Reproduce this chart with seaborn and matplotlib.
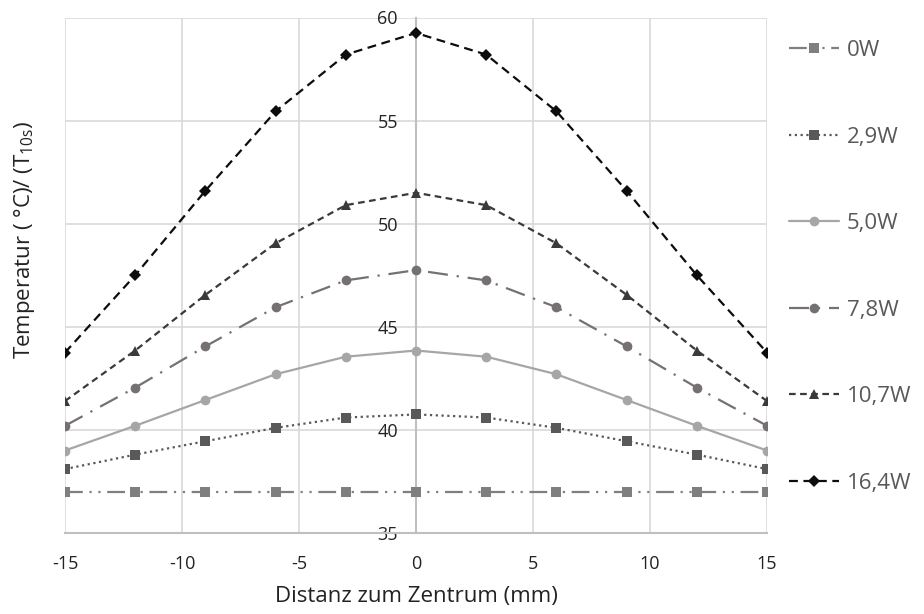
import matplotlib
matplotlib.use("Agg")
import matplotlib.pyplot as plt
import seaborn as sns
import pandas as pd

x_mm = [-15, -12, -9, -6, -3, 0, 3, 6, 9, 12, 15]
series_names = ["0W", "2,9W", "5,0W", "7,8W", "10,7W", "16,4W"]
t_0w = [37.0, 37.0, 37.0, 37.0, 37.0, 37.0, 37.0, 37.0, 37.0, 37.0, 37.0]
t_2_9w = [38.1, 38.8, 39.45, 40.1, 40.6, 40.75, 40.6, 40.1, 39.45, 38.8, 38.1]
t_5_0w = [39.0, 40.2, 41.45, 42.7, 43.55, 43.85, 43.55, 42.7, 41.45, 40.2, 39.0]
t_7_8w = [40.2, 42.05, 44.05, 45.95, 47.25, 47.75, 47.25, 45.95, 44.05, 42.05, 40.2]
t_10_7w = [41.4, 43.85, 46.55, 49.05, 50.9, 51.5, 50.9, 49.05, 46.55, 43.85, 41.4]
t_16_4w = [43.75, 47.5, 51.6, 55.45, 58.2, 59.25, 58.2, 55.45, 51.6, 47.5, 43.75]
x_ticks = [-15, -10, -5, 0, 5, 10, 15]
y_ticks = [35, 40, 45, 50, 55, 60]

all_vals = [t_0w, t_2_9w, t_5_0w, t_7_8w, t_10_7w, t_16_4w]
rows = []
for name, vals in zip(series_names, all_vals):
    for xv, yv in zip(x_mm, vals):
        rows.append({"x": xv, "T": yv, "Serie": name})
df = pd.DataFrame(rows)

sns.set_theme(style="white")
plt.rcParams["font.family"] = ["Open Sans", "DejaVu Sans"]
plt.rcParams["mathtext.default"] = "regular"

styles = {
    "0W": dict(color="#7F7F7F", ls=(0, (8, 3, 1, 3, 1, 3)), marker="s", ms=6.5),
    "2,9W": dict(color="#595959", ls=(0, (1, 1.6)), marker="s", ms=6.5),
    "5,0W": dict(color="#A6A6A6", ls="-", marker="o", ms=7),
    "7,8W": dict(color="#767171", ls=(0, (9, 4, 1, 4)), marker="o", ms=7),
    "10,7W": dict(color="#3A3A3A", ls=(0, (3, 2)), marker="^", ms=7.5),
    "16,4W": dict(color="#0D0D0D", ls=(0, (4, 2.5)), marker="D", ms=6.3),
}

fig = plt.figure(figsize=(9.24, 6.14), dpi=100)
ax = fig.add_axes([65 / 924, 1 - 533 / 614, (767 - 65) / 924, (533 - 17.5) / 614])

for name in series_names:
    st = styles[name]
    sub = df[df["Serie"] == name]
    sns.lineplot(data=sub, x="x", y="T", ax=ax, color=st["color"], linestyle=st["ls"],
                 marker=st["marker"], markersize=st["ms"], markeredgewidth=0,
                 linewidth=1.6, label=name, zorder=3)

ax.set_xlim(-15, 15)
ax.set_ylim(35, 60)
ax.set_xticks(x_ticks)
ax.set_yticks(y_ticks)
ax.set_xticklabels([str(v) for v in x_ticks])
ax.set_yticklabels([str(v) for v in y_ticks])
ax.grid(True, color="#D9D9D9", linewidth=1.2, zorder=0)
ax.set_axisbelow(True)
for s in ["top", "right"]:
    ax.spines[s].set_visible(False)
ax.spines["left"].set_position(("data", 0))
ax.spines["left"].set_color("#BFBFBF")
ax.spines["left"].set_linewidth(1.5)
ax.spines["bottom"].set_color("#BFBFBF")
ax.spines["bottom"].set_linewidth(1.5)
ax.tick_params(axis="both", length=0, labelsize=13, colors="#222222")
ax.tick_params(axis="x", pad=16)
ax.tick_params(axis="y", pad=13)

ax.set_xlabel("Distanz zum Zentrum (mm)", fontsize=16, color="#222222", labelpad=9)
ax.set_ylabel("Temperatur ( °C)/ (T$_{10s}$)", fontsize=16, color="#222222")
ax.yaxis.set_label_coords((37 - 65) / 702, (533 - 240) / 515.5)

handles, labels = ax.get_legend_handles_labels()
ax.get_legend().remove()
leg = fig.legend(handles, labels, loc="upper left", bbox_to_anchor=(789 / 924, 1 - 40 / 614),
                 frameon=False, fontsize=16, handlelength=2.25, handletextpad=0.35,
                 labelspacing=2.95, borderpad=0, borderaxespad=0, numpoints=1)
for t in leg.get_texts():
    t.set_color("#595959")

fig.savefig("out.png", dpi=100)
